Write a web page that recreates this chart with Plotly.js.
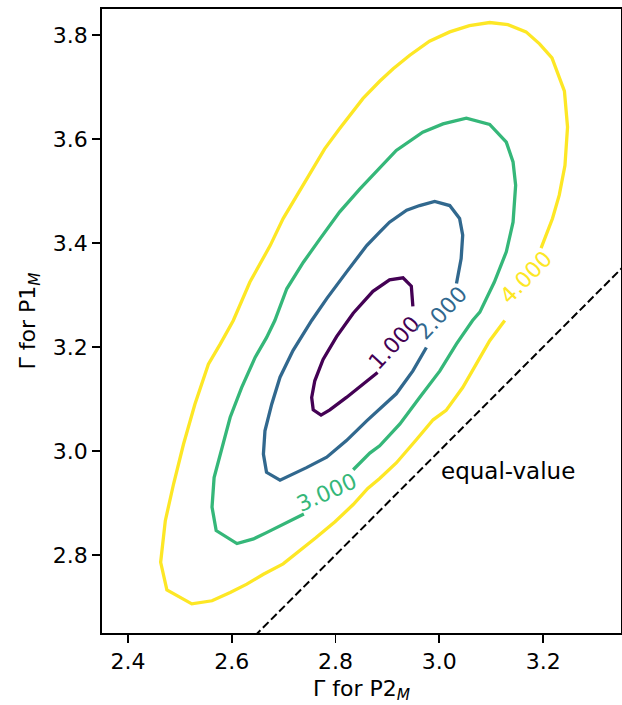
<!DOCTYPE html>
<html>
<head>
<meta charset="utf-8">
<script src="https://cdn.plot.ly/plotly-3.0.1.min.js"></script>
<style>html,body{margin:0;padding:0;background:#fff;}#chart{width:622px;height:705px;}</style>
</head>
<body>
<div id="chart"></div>
<script>
// Contour levels and colours (viridis for levels 1..4)
const levels = [1, 2, 3, 4];
const levelColors = ["#440154", "#31688e", "#35b779", "#fde725"];

// Contour paths (x = Γ for P2_M, y = Γ for P1_M)
const c1x = [2.881, 2.853, 2.821, 2.789, 2.772, 2.757, 2.754, 2.760, 2.776, 2.802, 2.834, 2.872, 2.904, 2.930, 2.946, 2.949];
const c1y = [3.151, 3.128, 3.103, 3.079, 3.069, 3.079, 3.103, 3.135, 3.176, 3.220, 3.265, 3.307, 3.329, 3.333, 3.317, 3.278];

const c2x = [2.975, 2.949, 2.917, 2.885, 2.860, 2.821, 2.783, 2.744, 2.693, 2.667, 2.661, 2.664, 2.677, 2.693, 2.718, 2.754, 2.783, 2.821, 2.860, 2.885, 2.904, 2.937, 2.962, 2.991, 3.020, 3.039, 3.045, 3.042, 3.033];
const c2y = [3.199, 3.154, 3.110, 3.081, 3.058, 3.020, 2.988, 2.968, 2.944, 2.959, 2.994, 3.039, 3.090, 3.142, 3.193, 3.251, 3.293, 3.344, 3.395, 3.421, 3.440, 3.463, 3.472, 3.480, 3.472, 3.447, 3.415, 3.370, 3.322];

const c3x = [2.739, 2.702, 2.667, 2.642, 2.610, 2.570, 2.562, 2.566, 2.578, 2.597, 2.619, 2.645, 2.667, 2.683, 2.706, 2.738, 2.770, 2.808, 2.847, 2.885, 2.917, 2.968, 3.007, 3.052, 3.097, 3.129, 3.142, 3.147, 3.142, 3.129, 3.106, 3.078, 3.064, 3.033, 3.001, 2.962, 2.924, 2.885, 2.866, 2.834];
const c3y = [2.879, 2.860, 2.843, 2.831, 2.822, 2.847, 2.892, 2.949, 2.994, 3.065, 3.122, 3.180, 3.218, 3.251, 3.312, 3.363, 3.408, 3.460, 3.504, 3.544, 3.578, 3.613, 3.629, 3.640, 3.628, 3.594, 3.556, 3.511, 3.440, 3.383, 3.325, 3.267, 3.251, 3.206, 3.154, 3.103, 3.052, 3.010, 2.996, 2.964];

const c4x = [3.126, 3.097, 3.071, 3.045, 3.013, 2.988, 2.956, 2.917, 2.885, 2.862, 2.834, 2.799, 2.762, 2.731, 2.699, 2.661, 2.629, 2.597, 2.562, 2.523, 2.475, 2.463, 2.472, 2.488, 2.507, 2.529, 2.555, 2.578, 2.603, 2.635, 2.674, 2.699, 2.744, 2.779, 2.808, 2.853, 2.885, 2.911, 2.943, 2.981, 3.020, 3.058, 3.097, 3.132, 3.167, 3.193, 3.217, 3.228, 3.241, 3.247, 3.242, 3.231, 3.218, 3.196];
const c4y = [3.251, 3.212, 3.167, 3.122, 3.078, 3.060, 3.022, 2.977, 2.947, 2.928, 2.897, 2.864, 2.833, 2.808, 2.783, 2.763, 2.744, 2.728, 2.712, 2.706, 2.733, 2.786, 2.866, 2.937, 3.013, 3.090, 3.167, 3.206, 3.251, 3.325, 3.395, 3.447, 3.524, 3.581, 3.620, 3.678, 3.711, 3.735, 3.761, 3.788, 3.806, 3.818, 3.824, 3.820, 3.806, 3.783, 3.756, 3.726, 3.692, 3.623, 3.549, 3.492, 3.447, 3.390];

// Inline contour labels
const labelText = ["1.000", "2.000", "3.000", "4.000"];
const labelX = [2.914, 3.005, 2.783, 3.167];
const labelY = [3.208, 3.266, 2.921, 3.333];
const labelAngle = [-47, -47, -24, -46];

// Equal-value reference line y = x
const eqX = [2.3, 3.4];
const eqY = [2.3, 3.4];
const eqText = "equal-value";
const eqTextX = 2.999;
const eqTextY = 2.962;

// Axis ticks
const xTicks = [2.4, 2.6, 2.8, 3.0, 3.2];
const xTickText = ["2.4", "2.6", "2.8", "3.0", "3.2"];
const yTicks = [2.8, 3.0, 3.2, 3.4, 3.6, 3.8];
const yTickText = ["2.8", "3.0", "3.2", "3.4", "3.6", "3.8"];

const FONT = "DejaVu Sans, Liberation Sans, sans-serif";
const paths = [[c1x, c1y], [c2x, c2y], [c3x, c3y], [c4x, c4y]];

const traces = paths.map((p, i) => ({
  type: "scatter", mode: "lines", x: p[0], y: p[1],
  line: {color: levelColors[i], width: 3.3},
  name: String(levels[i]), hoverinfo: "skip"
}));
traces.push({
  type: "scatter", mode: "lines", x: eqX, y: eqY,
  line: {color: "#000", width: 2, dash: "8px,3.5px"}, hoverinfo: "skip"
});

const annotations = labelText.map((t, i) => ({
  x: labelX[i], y: labelY[i], xref: "x", yref: "y", text: t,
  showarrow: false, textangle: labelAngle[i],
  font: {family: FONT, size: 22, color: levelColors[i]},
  xanchor: "center", yanchor: "middle"
}));
annotations.push({
  x: eqTextX, y: eqTextY, xref: "x", yref: "y", text: eqText,
  showarrow: false, xanchor: "left", yanchor: "middle",
  font: {family: FONT, size: 23, color: "#000"}
});

const axisCommon = {
  showgrid: false, zeroline: false, showline: true, mirror: true,
  linecolor: "#000", linewidth: 1.8, ticks: "outside", ticklen: 8,
  tickwidth: 1.8, tickcolor: "#000",
  tickfont: {family: FONT, size: 22, color: "#000"}
};

const layout = {
  width: 622, height: 705,
  margin: {l: 102, r: 1, t: 9, b: 72},
  paper_bgcolor: "#fff", plot_bgcolor: "#fff",
  showlegend: false,
  font: {family: FONT, size: 22, color: "#000"},
  xaxis: Object.assign({}, axisCommon, {
    range: [2.35, 3.35], tickvals: xTicks, ticktext: xTickText,
    title: {text: "Γ for P2<sub><i>M</i></sub>", font: {family: FONT, size: 22, color: "#000"}, standoff: 7}
  }),
  yaxis: Object.assign({}, axisCommon, {
    range: [2.65, 3.85], tickvals: yTicks, ticktext: yTickText,
    title: {text: "Γ for P1<sub><i>M</i></sub>", font: {family: FONT, size: 22, color: "#000"}, standoff: 11}
  }),
  annotations: annotations
};

Plotly.newPlot("chart", traces, layout, {staticPlot: true, displayModeBar: false});
</script>
</body>
</html>
